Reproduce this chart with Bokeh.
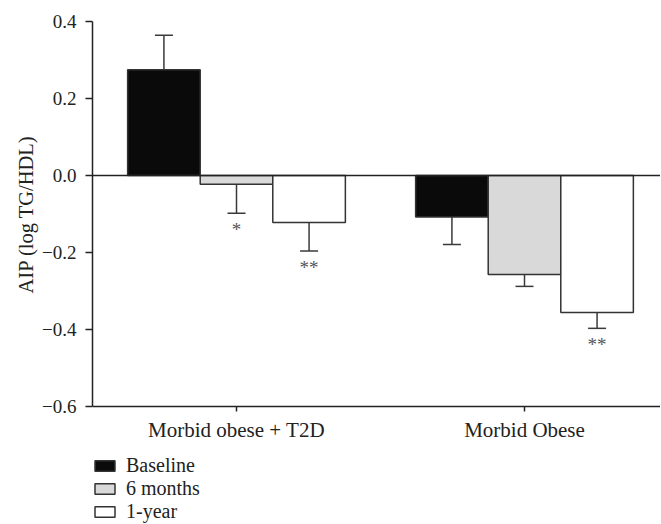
import numpy as np
from bokeh.plotting import figure
from bokeh.models import (ColumnDataSource, Range1d, FixedTicker, Span, Whisker,
                          TeeHead, Legend, LegendItem, Title)
from bokeh.core.properties import value
from bokeh.embed import file_html
from bokeh.resources import INLINE

# ---- data ----
groups = ["Morbid obese + T2D", "Morbid Obese"]
series = ["Baseline", "6 months", "1-year"]
baseline = [0.275, -0.108]
baseline_err = [0.089, 0.071]
six_months = [-0.023, -0.257]
six_months_err = [0.075, 0.031]
one_year = [-0.122, -0.356]
one_year_err = [0.074, 0.041]
stars_baseline = ["", ""]
stars_six_months = ["*", ""]
stars_one_year = ["**", "**"]
y_ticks = [-0.6, -0.4, -0.2, 0.0, 0.2, 0.4]
y_tick_labels = ["\u22120.6", "\u22120.4", "\u22120.2", "0.0", "0.2", "0.4"]
y_title = "AIP (log TG/HDL)"

colors = ["#0a0a0a", "#d9d9d9", "#ffffff"]
FONT = "Liberation Serif"
INK = "#222222"

group_x = np.arange(1, len(groups) + 1, dtype=float)
offsets = [-0.252, 0.0, 0.252]
bar_w = 0.252

W, H = 660, 523
LEFT, TOP = 92, 21
PX_PER_X, PX_PER_Y = 288, 385
y_lo, y_hi = y_ticks[0], y_ticks[-1]
p = figure(width=W, height=H, output_backend="svg", toolbar_location=None,
           x_range=Range1d(0.5, 0.5 + (W - LEFT) / PX_PER_X),
           y_range=Range1d(y_hi - (H - TOP) / PX_PER_Y, y_hi),
           min_border_left=LEFT, min_border_right=0, min_border_top=TOP,
           min_border_bottom=0)
p.outline_line_color = None
p.xgrid.visible = False
p.ygrid.visible = False
p.background_fill_color = "white"

vals = [baseline, six_months, one_year]
errs = [baseline_err, six_months_err, one_year_err]
stars = [stars_baseline, stars_six_months, stars_one_year]

renderers = []
up = dict(x=[], lower=[], upper=[])
down = dict(x=[], lower=[], upper=[])
star_src = dict(x=[], y=[], t=[])
for i, (v, e, s) in enumerate(zip(vals, errs, stars)):
    xs = group_x + offsets[i]
    src = ColumnDataSource(dict(x=xs, top=v))
    r = p.vbar(x="x", top="top", bottom=0, width=bar_w, source=src,
               fill_color=colors[i], line_color="#333333", line_width=1.5)
    renderers.append(r)
    for xx, vv, ee, ss in zip(xs, v, e, s):
        if vv >= 0:
            up["x"].append(xx); up["lower"].append(vv); up["upper"].append(vv + ee)
            tip = vv + ee
        else:
            down["x"].append(xx); down["lower"].append(vv - ee); down["upper"].append(vv)
            tip = vv - ee
        if ss:
            star_src["x"].append(xx); star_src["y"].append(tip); star_src["t"].append(ss)

wcol = "#3a3a3a"
p.add_layout(Whisker(source=ColumnDataSource(up), base="x", lower="lower", upper="upper",
                     line_color=wcol, line_width=1.5, lower_head=None,
                     upper_head=TeeHead(size=18, line_color=wcol, line_width=1.5)))
p.add_layout(Whisker(source=ColumnDataSource(down), base="x", lower="lower", upper="upper",
                     line_color=wcol, line_width=1.5, upper_head=None,
                     lower_head=TeeHead(size=18, line_color=wcol, line_width=1.5)))

p.text(x="x", y="y", text="t", source=ColumnDataSource(star_src),
       text_font=value(FONT), text_font_size="19px", text_color="#555555",
       text_align="center", text_baseline="top", y_offset=6)

p.add_layout(Span(location=0, dimension="width", line_color=INK, line_width=1.5))

# axes
p.yaxis.ticker = FixedTicker(ticks=y_ticks)
p.yaxis.major_label_overrides = {t: l for t, l in zip(y_ticks, y_tick_labels)}
p.yaxis.bounds = (y_lo, y_hi)
p.xaxis.ticker = FixedTicker(ticks=list(group_x))
p.xaxis.major_label_overrides = {float(t): g for t, g in zip(group_x, groups)}
p.xaxis.fixed_location = y_lo
for ax in (p.xaxis, p.yaxis):
    ax.axis_line_color = INK
    ax.axis_line_width = 1.5
    ax.major_tick_line_color = INK
    ax.major_tick_line_width = 1.5
    ax.major_tick_in = 0
    ax.minor_tick_line_color = None
    ax.major_label_text_font = FONT
    ax.major_label_text_color = INK
p.yaxis.major_tick_out = 7
p.yaxis.major_label_standoff = 9
p.yaxis.major_label_text_font_size = "19px"
p.xaxis.major_tick_out = 5
p.xaxis.major_label_standoff = 6
p.xaxis.major_label_text_font_size = "21px"

# y-axis title, centred on the -0.6..0.4 span rather than the whole frame
ytitle = Title(text=y_title, align="left", offset=230, standoff=6,
               text_font=FONT, text_font_size="20.5px", text_font_style="normal",
               text_color=INK)
p.add_layout(ytitle, "left")

legend = Legend(items=[LegendItem(label=s, renderers=[r]) for s, r in zip(series, renderers)],
                location=(0, 0), orientation="vertical",
                glyph_width=25, glyph_height=13, label_height=21, spacing=0,
                padding=0, margin=0, label_standoff=9,
                label_text_font=FONT, label_text_font_size="20px", label_text_color=INK,
                border_line_alpha=0, background_fill_alpha=0)
p.add_layout(legend, "center")

open("out.html", "w").write(file_html(p, INLINE))
